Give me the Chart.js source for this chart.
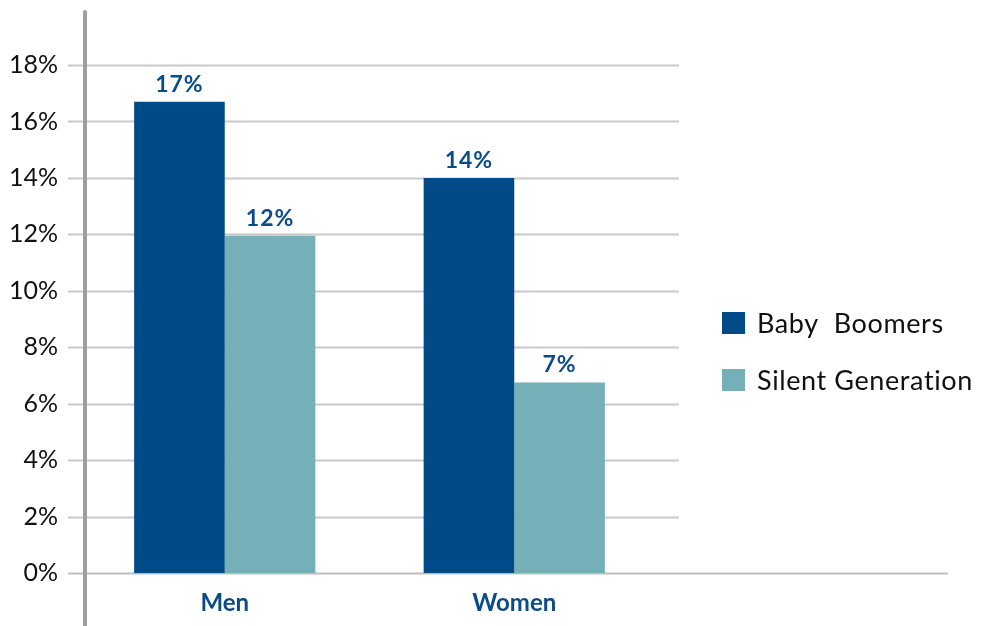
<!DOCTYPE html>
<html>
<head>
<meta charset="utf-8">
<script src="https://cdn.jsdelivr.net/npm/chart.js@4/dist/chart.umd.min.js"></script>
<style>
  html, body { margin: 0; padding: 0; background: #fff; }
  #wrap { width: 985px; height: 626px; position: relative; }
</style>
</head>
<body>
<div id="wrap"><canvas id="genChart"></canvas></div>
<script>
const categories = ['Men', 'Women'];
const seriesNames = ['Baby  Boomers', 'Silent Generation'];
const babyBoomers = [16.7, 14.0];
const silentGen = [11.95, 6.75];
const yTicks = [0, 2, 4, 6, 8, 10, 12, 14, 16, 18];

const fontFam = 'Lato, "Open Sans", sans-serif';
const blue = '#004a87';
const teal = '#75afb7';

// gridlines, axis lines, value labels, legend
const extras = {
  id: 'extras',
  beforeDatasetsDraw(chart) {
    const ctx = chart.ctx, a = chart.chartArea, y = chart.scales.y;
    ctx.save();
    ctx.lineWidth = 2;
    yTicks.forEach(t => {
      const py = Math.round(y.getPixelForValue(t)) + 0.5;
      ctx.strokeStyle = t === 0 ? '#bdbdbf' : '#c9c9cb';
      ctx.beginPath();
      ctx.moveTo(a.left - 12, py);
      ctx.lineTo(t === 0 ? 948 : a.right + 20, py);
      ctx.stroke();
    });
    ctx.strokeStyle = '#9e9ea2';
    ctx.lineWidth = 4;
    ctx.lineCap = 'round';
    ctx.beginPath();
    ctx.moveTo(a.left + 5, 12);
    ctx.lineTo(a.left + 5, 640);
    ctx.stroke();
    ctx.restore();
  },
  afterDatasetsDraw(chart) {
    const ctx = chart.ctx;
    ctx.save();
    ctx.font = 'bold 23px ' + fontFam;
    ctx.fillStyle = '#0b4b88';
    ctx.textAlign = 'center';
    ctx.textBaseline = 'bottom';
    ctx.letterSpacing = '1px';
    chart.data.datasets.forEach((ds, i) => {
      chart.getDatasetMeta(i).data.forEach((bar, j) => {
        ctx.fillText(Math.round(ds.data[j]) + '%', bar.x, bar.y - 6);
      });
    });
    // legend
    ctx.font = '27px ' + fontFam;
    ctx.letterSpacing = '0.6px';
    ctx.textAlign = 'left';
    ctx.textBaseline = 'middle';
    chart.data.datasets.forEach((ds, i) => {
      const cy = 323 + i * 57;
      ctx.fillStyle = ds.backgroundColor;
      ctx.fillRect(722, cy - 11, 23, 22);
      ctx.fillStyle = '#111';
      ctx.fillText(ds.label, 757, cy + 1);
    });
    ctx.restore();
  }
};

new Chart('genChart', {
  type: 'bar',
  data: {
    labels: categories,
    datasets: [
      { label: seriesNames[0], data: babyBoomers, backgroundColor: blue },
      { label: seriesNames[1], data: silentGen, backgroundColor: teal }
    ]
  },
  options: {
    responsive: true,
    maintainAspectRatio: false,
    animation: false,
    layout: { padding: { top: 65, right: 326, left: 0, bottom: 0 } },
    categoryPercentage: 0.626,
    barPercentage: 1,
    plugins: {
      legend: { display: false },
      tooltip: { enabled: false }
    },
    scales: {
      x: {
        grid: { display: false, drawTicks: false },
        border: { display: false },
        ticks: {
          color: '#0b4b88',
          font: { family: fontFam, size: 24, weight: 'bold' },
          padding: 16
        },
        afterFit(s) { s.height = 53; }
      },
      y: {
        min: 0,
        max: 18,
        afterBuildTicks(s) { s.ticks = yTicks.map(v => ({ value: v })); },
        grid: { display: false, drawTicks: false },
        border: { display: false },
        ticks: {
          color: '#111',
          font: { family: fontFam, size: 25 },
          padding: 22,
          callback: v => v + '%'
        },
        afterFit(s) { s.width = 80; }
      }
    }
  },
  plugins: [extras]
});
</script>
</body>
</html>
